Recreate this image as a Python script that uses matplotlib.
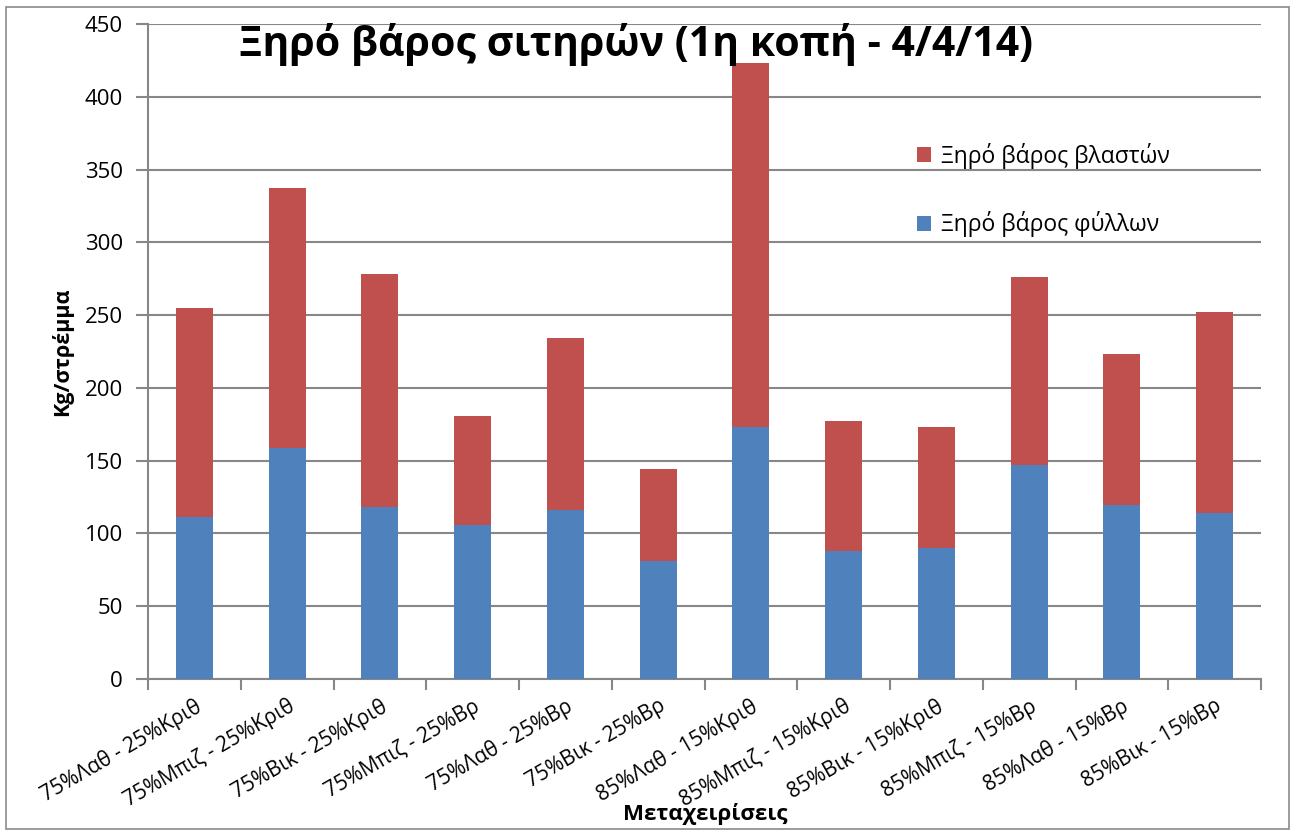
import matplotlib
matplotlib.use("Agg")
import matplotlib.pyplot as plt
from matplotlib.patches import Rectangle
import numpy as np

plt.rcParams['font.family'] = ['Open Sans', 'DejaVu Sans']

categories = ["75%Λαθ - 25%Κριθ", "75%Μπιζ - 25%Κριθ", "75%Βικ - 25%Κριθ",
              "75%Μπιζ - 25%Βρ", "75%Λαθ - 25%Βρ", "75%Βικ - 25%Βρ",
              "85%Λαθ - 15%Κριθ", "85%Μπιζ - 15%Κριθ", "85%Βικ - 15%Κριθ",
              "85%Μπιζ - 15%Βρ", "85%Λαθ - 15%Βρ", "85%Βικ - 15%Βρ"]
leaves = [111, 159, 118, 106, 116, 81, 173, 88, 90, 147, 119.5, 114]
shoots = [144, 178, 160, 75, 118, 63, 250, 89, 83, 129, 103.5, 138]
yticks = [0, 50, 100, 150, 200, 250, 300, 350, 400, 450]

blue = "#4F81BD"
red = "#C0504D"
grid = "#878787"

fig = plt.figure(figsize=(12.9, 8.3), dpi=100)
fig.patches.append(Rectangle((6/1290, 1/830), 1283/1290, 822/830, transform=fig.transFigure,
                             fill=False, edgecolor="#8a8a8a", linewidth=1.2))
ax = fig.add_axes([148/1290, 1 - 679/830, (1261 - 148)/1290, (679 - 24)/830])

x = np.arange(len(categories))
ax.bar(x, leaves, width=0.4, color=blue, label="Ξηρό βάρος φύλλων", zorder=3)
ax.bar(x, shoots, width=0.4, bottom=leaves, color=red, label="Ξηρό βάρος βλαστών", zorder=3)

ax.set_xlim(-0.5, len(categories) - 0.5)
ax.set_ylim(0, 450)
ax.set_yticks(yticks)
ax.yaxis.grid(True, color=grid, linewidth=1.5, zorder=0)
ax.set_axisbelow(True)

for s in ["top", "right"]:
    ax.spines[s].set_visible(False)
ax.spines["left"].set_color(grid)
ax.spines["bottom"].set_color(grid)
ax.spines["left"].set_linewidth(1.5)
ax.spines["bottom"].set_linewidth(1.5)

ax.tick_params(axis="y", colors=grid, labelcolor="black", labelsize=16, length=9, width=1.5, pad=9)
ax.set_xticks(np.arange(len(categories) + 1) - 0.5)
ax.set_xticklabels([])
ax.tick_params(axis="x", colors=grid, length=8, width=1.5)
ax.set_xticks(x, minor=True)
ax.set_xticklabels(categories, minor=True, rotation=30, ha="right", va="top",
                   rotation_mode="anchor", fontsize=15)
ax.tick_params(axis="x", which="minor", length=0, pad=12, labelcolor="black")

ax.set_ylabel("Kg/στρέμμα", fontsize=15.5, fontweight="bold")
ax.yaxis.set_label_coords((73 - 148) / 1113, 0.5)
fig.text(705/1290, 1 - 814/830, "Μεταχειρίσεις", fontsize=16, fontweight="bold",
         ha="center", va="center")
fig.text(636/1290, 1 - 45/830, "Ξηρό βάρος σιτηρών (1η κοπή - 4/4/14)", fontsize=29.5,
         fontweight="bold", ha="center", va="center")

h, l = ax.get_legend_handles_labels()
ax.legend(h[::-1], l[::-1], loc="upper left", bbox_to_anchor=(0.672, 0.85), frameon=False,
          fontsize=16.5, labelspacing=1.85, handlelength=0.65, handleheight=0.65, handletextpad=0.4)

fig.savefig("out.png", dpi=100)
